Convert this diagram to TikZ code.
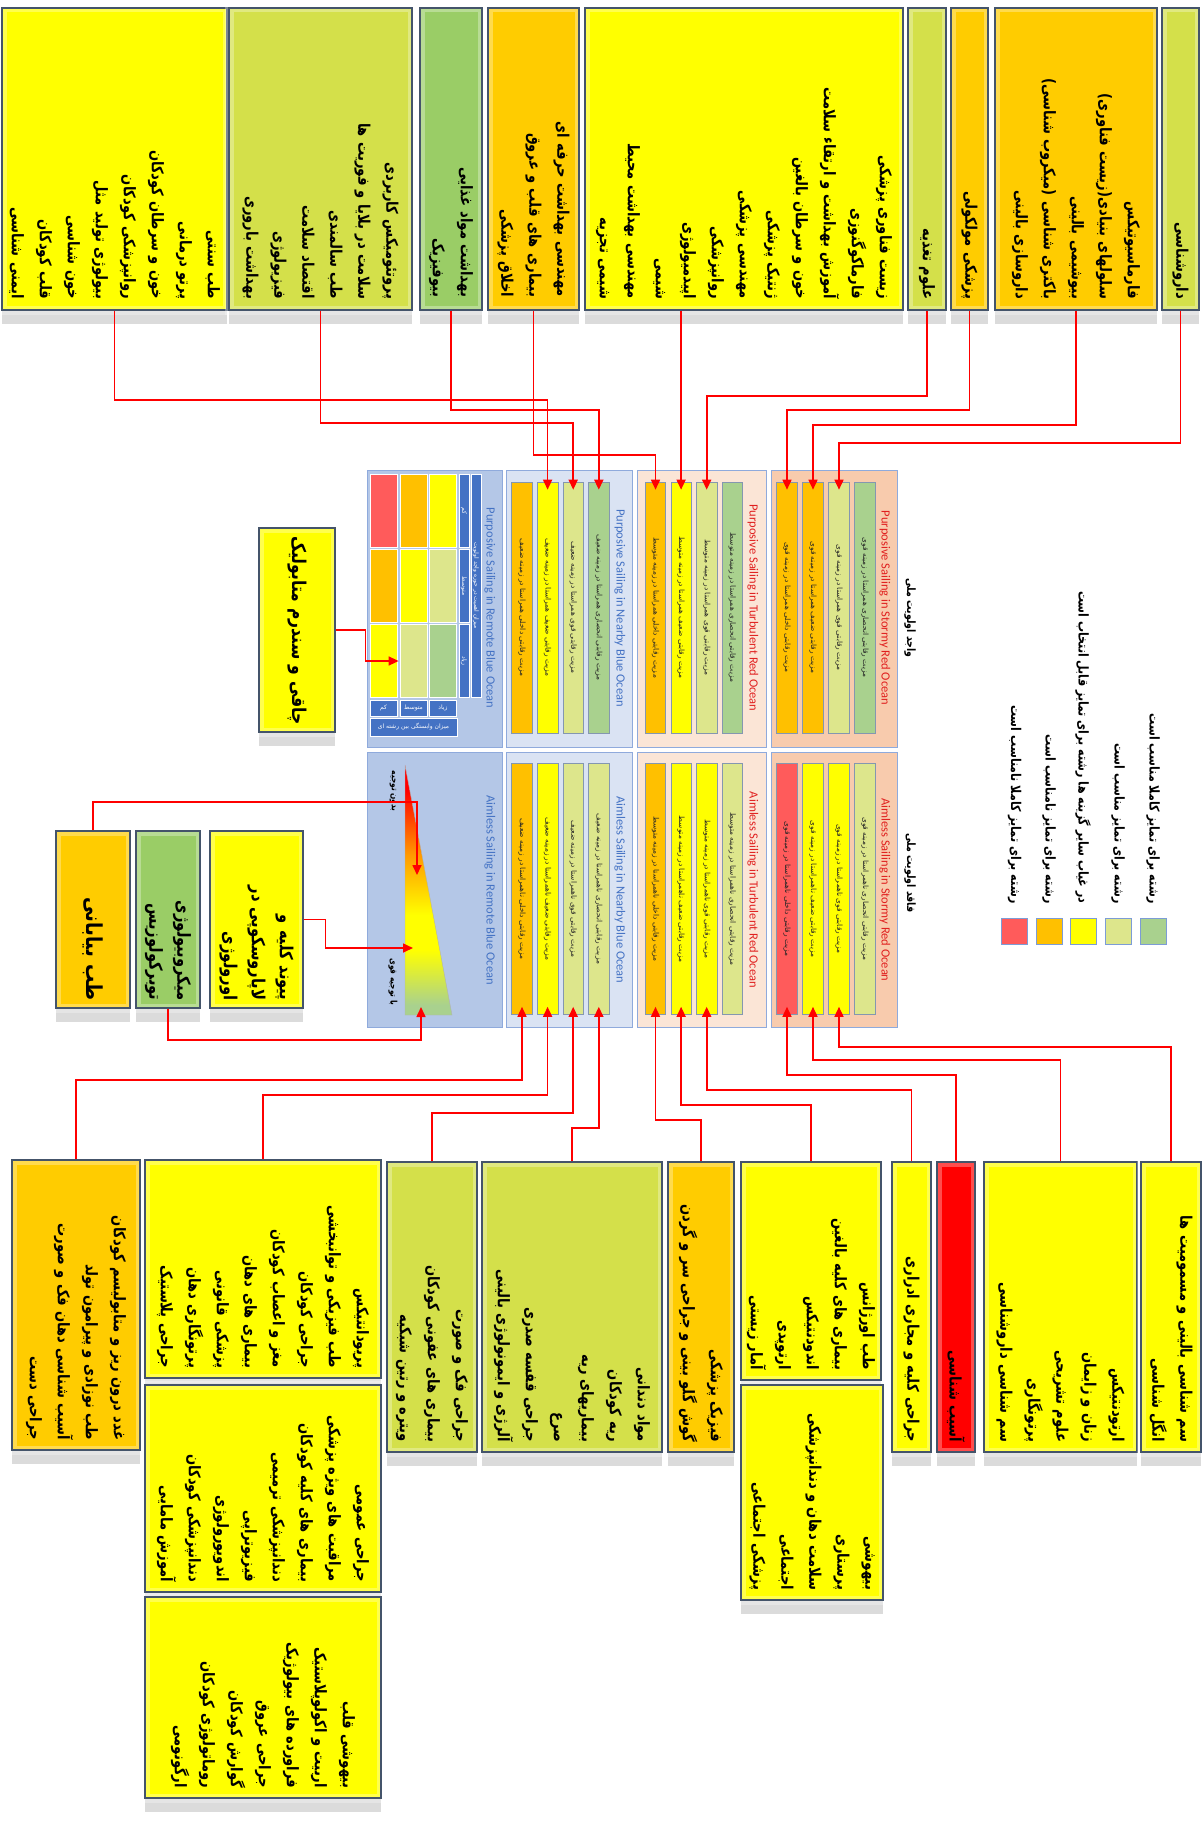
\documentclass[tikz,border=0pt]{standalone}
\usepackage{fontspec}
\setmainfont{Carlito}
\newfontfamily\fa[Script=Arabic, FakeStretch=0.82]{DejaVu Sans}
\newfontfamily\fb[Script=Arabic]{DejaVu Sans}
\TeXXeTstate=1
\newcommand\rl[1]{\beginR#1\endR}
\usetikzlibrary{arrows.meta,shadows,positioning,calc}

\definecolor{cye}{HTML}{FFFF00}
\definecolor{col}{HTML}{D4E04A}
\definecolor{cgn}{HTML}{9ACD66}
\definecolor{cor}{HTML}{FFCC00}
\definecolor{crd}{HTML}{FF0000}
\definecolor{boxedge}{HTML}{44546A}
\definecolor{bgr}{HTML}{A9D18E}
\definecolor{bli}{HTML}{DDE68C}
\definecolor{bye}{HTML}{FFFF00}
\definecolor{bor}{HTML}{FFC000}
\definecolor{brd}{HTML}{FF5B5B}
\definecolor{tor}{HTML}{FF9A00}
\definecolor{baredge}{HTML}{8497B0}
\definecolor{prb}{HTML}{B4C7E7}
\definecolor{pnb}{HTML}{DAE3F3}
\definecolor{ptr}{HTML}{FBE5D6}
\definecolor{psr}{HTML}{F8CBAD}
\definecolor{panedge}{HTML}{8FAADC}
\definecolor{hblue}{HTML}{4472C4}
\definecolor{tred}{HTML}{E0201F}
\pgfdeclareverticalshading{trishade}{100bp}{color(0bp)=(bgr); color(27bp)=(bgr); color(38bp)=(yellow); color(45bp)=(yellow); color(57bp)=(tor); color(70bp)=(red); color(100bp)=(red)}

\begin{document}
\begin{tikzpicture}[x=1pt,y=-1pt,
  box/.style={draw=boxedge, line width=1.3pt, rotate=-90, inner sep=0pt, align=right,
    font=\fa\bfseries\fontsize{16}{28}\selectfont,
    drop shadow={shadow xshift=0pt, shadow yshift=-14pt, opacity=.28},
    postaction={draw=white, draw opacity=.3, line width=9pt},
    postaction={draw=boxedge, line width=1.3pt}},
  bar/.style={draw=baredge, line width=.6pt, rotate=-90, minimum width=251pt,
    minimum height=20.5pt, inner sep=0pt, text=black!85, font=\fb\fontsize{7.4}{9}\selectfont},
  panel/.style={draw=panedge, line width=.9pt},
  cell/.style={draw=white, line width=.8pt, minimum width=27pt, minimum height=73pt, inner sep=0pt},
  hdr/.style={fill=hblue, draw=white, line width=.6pt, text=white, inner sep=0pt,
    font=\fb\fontsize{6}{7}\selectfont},
  ttl/.style={rotate=-90, font=\fontsize{12.5}{14}\selectfont},
  lgbox/.style={draw=hblue!70, line width=1pt, minimum size=26pt, inner sep=0pt},
  lgtxt/.style={rotate=-90, anchor=east, font=\fa\bfseries\fontsize{13.5}{15}\selectfont},
  link/.style={draw=red, line width=1.6pt, -{Triangle[length=10pt,width=9pt]}, shorten >=-8pt}]

\fill[white] (0,0) rectangle (1203,1828);
\useasboundingbox (0,0) rectangle (1203,1828);

% top row of fields
\node[box, fill=cye, minimum width=302pt, minimum height=225pt, text width=280pt] (T1) at (114.5,159)
  {\rl{طب سنتی}\\\rl{پرتو درمانی}\\\rl{خون و سرطان کودکان}\\\rl{روانپزشکی کودکان}\\\rl{بیولوژی تولید مثل}\\\rl{خون شناسی}\\\rl{قلب کودکان}\\\rl{ایمنی شناسی}};
\node[box, fill=col, minimum width=302pt, minimum height=183pt, text width=280pt] (T2) at (320.5,159)
  {\rl{پروتئومیکس کاربردی}\\\rl{سلامت در بلایا و فوریت ها}\\\rl{طب سالمندی}\\\rl{اقتصاد سلامت}\\\rl{فیزیولوژی}\\\rl{بهداشت باروری}};
\node[box, fill=cgn, minimum width=302pt, minimum height=62pt, text width=276pt] (T3) at (451,159)
  {\rl{بهداشت مواد غذایی}\\\rl{بیوفیزیک}};
\node[box, fill=cor, minimum width=302pt, minimum height=91pt, text width=276pt] (T4) at (533.5,159)
  {\rl{مهندسی بهداشت حرفه ای}\\\rl{بیماری های قلب و عروق}\\\rl{اخلاق پزشکی}};
\node[box, fill=cye, minimum width=302pt, minimum height=318pt, text width=280pt] (T5) at (744,159)
  {\rl{زیست فناوری پزشکی}\\\rl{فارماکوگنوزی}\\\rl{آموزش بهداشت و ارتقاء سلامت}\\\rl{خون و سرطان بالغین}\\\rl{ژنتیک پزشکی}\\\rl{مهندسی پزشکی}\\\rl{روانپزشکی}\\\rl{اپیدمیولوژی}\\\rl{شیمی}\\\rl{مهندسی بهداشت محیط}\\\rl{شیمی تجزیه}};
\node[box, fill=col, minimum width=302pt, minimum height=38pt, text width=280pt] (T6) at (927,159)
  {\rl{علوم تغذیه}};
\node[box, fill=cor, minimum width=302pt, minimum height=37pt, text width=280pt] (T7) at (969.5,159)
  {\rl{پزشکی مولکولی}};
\node[box, fill=cor, minimum width=302pt, minimum height=162pt, text width=280pt] (T8) at (1076,159)
  {\rl{فارماسیوتیکس}\\\rl{سلولهای بنیادی(زیست فناوری)}\\\rl{بیوشیمی بالینی}\\\rl{باکتری شناسی (میکروب شناسی)}\\\rl{داروسازی بالینی}};
\node[box, fill=col, minimum width=302pt, minimum height=37pt, text width=280pt] (T9) at (1180.5,159)
  {\rl{داروشناسی}};

% panels
\draw[panel, fill=prb] (367,470) rectangle (502,747);
\draw[panel, fill=pnb] (506,470) rectangle (632,747);
\draw[panel, fill=ptr] (637,470) rectangle (766,747);
\draw[panel, fill=psr] (771,470) rectangle (897,747);
\draw[panel, fill=prb] (367,752) rectangle (502,1027);
\draw[panel, fill=pnb] (506,752) rectangle (632,1027);
\draw[panel, fill=ptr] (637,752) rectangle (766,1027);
\draw[panel, fill=psr] (771,752) rectangle (897,1027);

\foreach \nm/\cx/\dx/\z/\ca/\cb/\cc/\cd in {n/522/25.6/ضعیف/bor/bye/bli/bgr, t/655.5/25.6/متوسط/bor/bye/bli/bgr, s/787/26/قوی/bor/bor/bli/bgr}{
  \foreach \i/\w/\c in {1/داخلی/\ca, 2/ضعیف/\cb, 3/قوی/\cc, 4/انحصاری/\cd}
    \node[bar, fill=\c] (p\nm\i) at ({\cx+(\i-1)*\dx},607.5) {\rl{مزیت رقابتی \w{} همراستا در زمینه \z}};
}
\foreach \nm/\cx/\dx/\z/\ca/\cb/\cc/\cd in {n/522/25.6/ضعیف/bor/bye/bli/bli, t/655.5/25.6/متوسط/bor/bye/bye/bli, s/787/26/قوی/brd/bye/bye/bli}{
  \foreach \i/\w/\c in {1/داخلی/\ca, 2/ضعیف/\cb, 3/قوی/\cc, 4/انحصاری/\cd}
    \node[bar, fill=\c] (a\nm\i) at ({\cx+(\i-1)*\dx},889) {\rl{مزیت رقابتی \w{} ناهمراستا در زمینه \z}};
}

\node[ttl, text=hblue] (trp) at (490,608) {Purposive Sailing in Remote Blue Ocean};
\node[ttl, text=hblue] (tnp) at (620,608) {Purposive Sailing in Nearby Blue Ocean};
\node[ttl, text=tred] (ttp) at (753,608) {Purposive Sailing in Turbulent Red Ocean};
\node[ttl, text=tred] (tsp) at (885,608) {Purposive Sailing in Stormy Red Ocean};
\node[ttl, text=hblue] (tra) at (490,890) {Aimless Sailing in Remote Blue Ocean};
\node[ttl, text=hblue] (tna) at (620,890) {Aimless Sailing in Nearby Blue Ocean};
\node[ttl, text=tred] (tta) at (753,890) {Aimless Sailing in Turbulent Red Ocean};
\node[ttl, text=tred] (tsa) at (885,890) {Aimless Sailing in Stormy Red Ocean};

% matrix of the remote blue ocean
\foreach \r/\cy/\ca/\cb/\cc in {1/510.5/brd/bor/bye, 2/586/bor/bye/bli, 3/661/bye/bli/bgr}
  \foreach \k/\cx/\f in {a/383.5/\ca, b/413.5/\cb, c/443/\cc}
    \node[cell, fill=\f] (m\k\r) at (\cx,\cy) {};
\node[hdr, rotate=-90, minimum width=73pt, minimum height=10pt] (h1) at (464,510.5) {\rl{کم}};
\node[hdr, rotate=-90, minimum width=73pt, minimum height=10pt] (h2) at (464,586) {\rl{متوسط}};
\node[hdr, rotate=-90, minimum width=73pt, minimum height=10pt] (h3) at (464,661) {\rl{زیاد}};
\node[hdr, rotate=-90, minimum width=223pt, minimum height=10pt] (hv) at (476,585.5) {\rl{میزان اهمیت در حوزه واجد اولویت}};
\node[hdr, minimum width=27pt, minimum height=16pt] (v1) at (383.5,708) {\rl{کم}};
\node[hdr, minimum width=27pt, minimum height=16pt] (v2) at (413.5,708) {\rl{متوسط}};
\node[hdr, minimum width=27pt, minimum height=16pt] (v3) at (443,708) {\rl{زیاد}};
\node[hdr, minimum width=87pt, minimum height=18pt] (vh) at (413.5,727) {\rl{میزان وابستگی بین رشته ای}};

% triangle of the aimless remote ocean
\shade[shading=trishade, draw=gray!60] (405,765) -- (452,1015) -- (405,1015) -- cycle;
\node[rotate=-90, font=\fa\bfseries\fontsize{9}{10}\selectfont] (tq1) at (393,791) {\rl{بدون توجیه}};
\node[rotate=-90, font=\fa\bfseries\fontsize{9}{10}\selectfont] (tq2) at (393,982) {\rl{با توجیه قوی}};
\coordinate (tr1) at (417,875);
\coordinate (tr2) at (413,948);
\coordinate (tr3) at (421,1007);

\node[rotate=-90, font=\fa\bfseries\fontsize{11.5}{13}\selectfont] (sp) at (910,618) {\rl{واجد اولویت ملی}};
\node[rotate=-90, font=\fa\bfseries\fontsize{11.5}{13}\selectfont] (sa) at (910,873) {\rl{فاقد اولویت ملی}};

% legend
\node[lgbox, fill=bgr] (lg1) at (1153,931.5) {};
\node[lgbox, fill=bli] (lg2) at (1118,931.5) {};
\node[lgbox, fill=bye] (lg3) at (1083,931.5) {};
\node[lgbox, fill=bor] (lg4) at (1049,931.5) {};
\node[lgbox, fill=brd] (lg5) at (1014.5,931.5) {};
\node[lgtxt] (lt1) at (1153,907) {\rl{رشته برای تمایز کاملا مناسب است}};
\node[lgtxt] (lt2) at (1118,907) {\rl{رشته برای تمایز مناسب است}};
\node[lgtxt] (lt3) at (1083,907) {\rl{در غیاب سایر گزینه ها رشته برای تمایز قابل انتخاب است}};
\node[lgtxt] (lt4) at (1049,907) {\rl{رشته برای تمایز نامناسب است}};
\node[lgtxt] (lt5) at (1014.5,907) {\rl{رشته برای تمایز کاملا نامناسب است}};

% fields on the left
\node[box, fill=cye, minimum width=204pt, minimum height=76pt, text width=190pt, font=\fa\bfseries\fontsize{19}{30}\selectfont] (obes) at (297,630)
  {\rl{چاقی و سندرم متابولیک}};
\node[box, fill=cye, minimum width=177pt, minimum height=93pt, text width=162pt, font=\fa\bfseries\fontsize{18}{28}\selectfont] (uro) at (256.5,919.5)
  {\rl{پیوند کلیه و}\\\rl{لاپاروسکوپی در}\\\rl{اورولوژی}};
\node[box, fill=cgn, minimum width=177pt, minimum height=64pt, text width=162pt, font=\fa\bfseries\fontsize{18}{28}\selectfont] (tb) at (168,919.5)
  {\rl{میکروبیولوژی}\\\rl{توبرکولوزیس}};
\node[box, fill=cor, minimum width=177pt, minimum height=74pt, text width=162pt, font=\fa\bfseries\fontsize{22}{30}\selectfont] (des) at (93,919.5)
  {\rl{طب بیابانی}};

% bottom row of fields
\node[box, fill=cor, minimum width=290pt, minimum height=128pt, text width=270pt] (B1) at (76,1305)
  {\rl{غدد درون ریز و متابولیسم کودکان}\\\rl{طب نوزادی و پیرامون تولد}\\\rl{آسیب شناسی دهان فک و صورت}\\\rl{جراحی دست}};
\node[box, fill=cye, minimum width=218pt, minimum height=236pt, text width=198pt] (B2) at (263,1269)
  {\rl{پریودانتیکس}\\\rl{طب فیزیکی و توانبخشی}\\\rl{جراحی کودکان}\\\rl{مغز و اعصاب کودکان}\\\rl{بیماری های دهان}\\\rl{پزشکی قانونی}\\\rl{پرتونگاری دهان}\\\rl{جراحی پلاستیک}};
\node[box, fill=cye, minimum width=207pt, minimum height=236pt, text width=187pt] (B3) at (263,1488.5)
  {\rl{جراحی عمومی}\\\rl{مراقبت های ویژه پزشکی}\\\rl{بیماری های کلیه کودکان}\\\rl{دندانپزشکی ترمیمی}\\\rl{فیزیوتراپی}\\\rl{اندویورولوژی}\\\rl{دندانپزشکی کودکان}\\\rl{آموزش مامایی}};
\node[box, fill=cye, minimum width=201pt, minimum height=236pt, text width=181pt] (B4) at (263,1697.5)
  {\rl{بیهوشی قلب}\\\rl{اربیت و اکولوپلاستیک}\\\rl{فراورده های بیولوژیک}\\\rl{جراحی عروق}\\\rl{گوارش کودکان}\\\rl{روماتولوژی کودکان}\\\rl{ارگونومی}};
\node[box, fill=col, minimum width=290pt, minimum height=90pt, text width=270pt] (B5) at (432,1307)
  {\rl{جراحی فک و صورت}\\\rl{بیماری های عفونی کودکان}\\\rl{ویتره و رتین شبکیه}};
\node[box, fill=col, minimum width=290pt, minimum height=180pt, text width=270pt] (B6) at (572,1307)
  {\rl{مواد دندانی}\\\rl{ریه کودکان}\\\rl{بیماریهای ریه}\\\rl{صرع}\\\rl{جراحی قفسه صدری}\\\rl{آلرژی و ایمونولوژی بالینی}};
\node[box, fill=cor, minimum width=290pt, minimum height=66pt, text width=270pt] (B7) at (701,1307)
  {\rl{فیزیک پزشکی}\\\rl{گوش گلو بینی و جراحی سر و گردن}};
\node[box, fill=cye, minimum width=218pt, minimum height=140pt, text width=198pt] (B8) at (811,1271)
  {\rl{طب اورژانس}\\\rl{بیماری های کلیه بالغین}\\\rl{اندودنتیکس}\\\rl{ارتوپدی}\\\rl{آمار زیستی}};
\node[box, fill=cye, minimum width=215pt, minimum height=142pt, text width=195pt] (B9) at (812,1492.5)
  {\rl{بیهوشی}\\\rl{پرستاری}\\\rl{سلامت دهان و دندانپزشکی}\\\rl{اجتماعی}\\\rl{پزشکی اجتماعی}};
\node[box, fill=cye, minimum width=290pt, minimum height=39pt, text width=270pt] (B10) at (911.5,1307)
  {\rl{جراحی کلیه و مجاری ادراری}};
\node[box, fill=crd, minimum width=290pt, minimum height=38pt, text width=270pt] (B11) at (956,1307)
  {\rl{آسیب شناسی}};
\node[box, fill=cye, minimum width=290pt, minimum height=153pt, text width=270pt] (B12) at (1060.5,1307)
  {\rl{ارتودنتیکس}\\\rl{زنان و زایمان}\\\rl{علوم تشریحی}\\\rl{پرتونگاری}\\\rl{سم شناسی داروشناسی}};
\node[box, fill=cye, minimum width=290pt, minimum height=60pt, text width=270pt] (B13) at (1171,1307)
  {\rl{سم شناسی بالینی و مسمومیت ها}\\\rl{انگل شناسی}};

% connectors from the top row
\draw[link] (T1.east) -- (T1.east |- 0,400) -| (pn2.west);
\draw[link] (T2.east) -- (T2.east |- 0,423) -| (pn3.west);
\draw[link] (T3.east) -- (T3.east |- 0,410) -| (pn4.west);
\draw[link] (T4.east) -- (T4.east |- 0,455) -| (pt1.west);
\draw[link] (T5.east -| pt2.west) -- (pt2.west);
\draw[link] (T6.east) -- (T6.east |- 0,396) -| (pt3.west);
\draw[link] (T7.east) -- (T7.east |- 0,410) -| (ps1.west);
\draw[link] (T8.east) -- (T8.east |- 0,425) -| (ps2.west);
\draw[link] (T9.east) -- (T9.east |- 0,443) -| (ps3.west);

% connectors from the bottom row
\draw[link] (B1.west) -- (B1.west |- 0,1080) -| (an1.east);
\draw[link] (B2.west) -- (B2.west |- 0,1095) -| (an2.east);
\draw[link] (B5.west) -- (B5.west |- 0,1113) -| (an3.east);
\draw[link] (B6.west) -- (B6.west |- 0,1128) -| (an4.east);
\draw[link] (B7.west) -- (B7.west |- 0,1120) -| (at1.east);
\draw[link] (B8.west) -- (B8.west |- 0,1105) -| (at2.east);
\draw[link] (B10.west) -- (B10.west |- 0,1090) -| (at3.east);
\draw[link] (B11.west) -- (B11.west |- 0,1075) -| (as1.east);
\draw[link] (B12.west) -- (B12.west |- 0,1060) -| (as2.east);
\draw[link] (B13.west) -- (B13.west |- 0,1047) -| (as3.east);

% connectors on the left
\draw[link, shorten >=1pt] (obes.north) -- ++(30,0) |- (mb3.west);
\draw[link, shorten >=0pt] (des.west) -- (des.west |- 0,802) -| (tr1);
\draw[link, shorten >=0pt] (uro.north) -- ++(22,0) |- (tr2);
\draw[link, shorten >=0pt] (tb.east) -- (tb.east |- 0,1040) -| (tr3);
\end{tikzpicture}
\end{document}
